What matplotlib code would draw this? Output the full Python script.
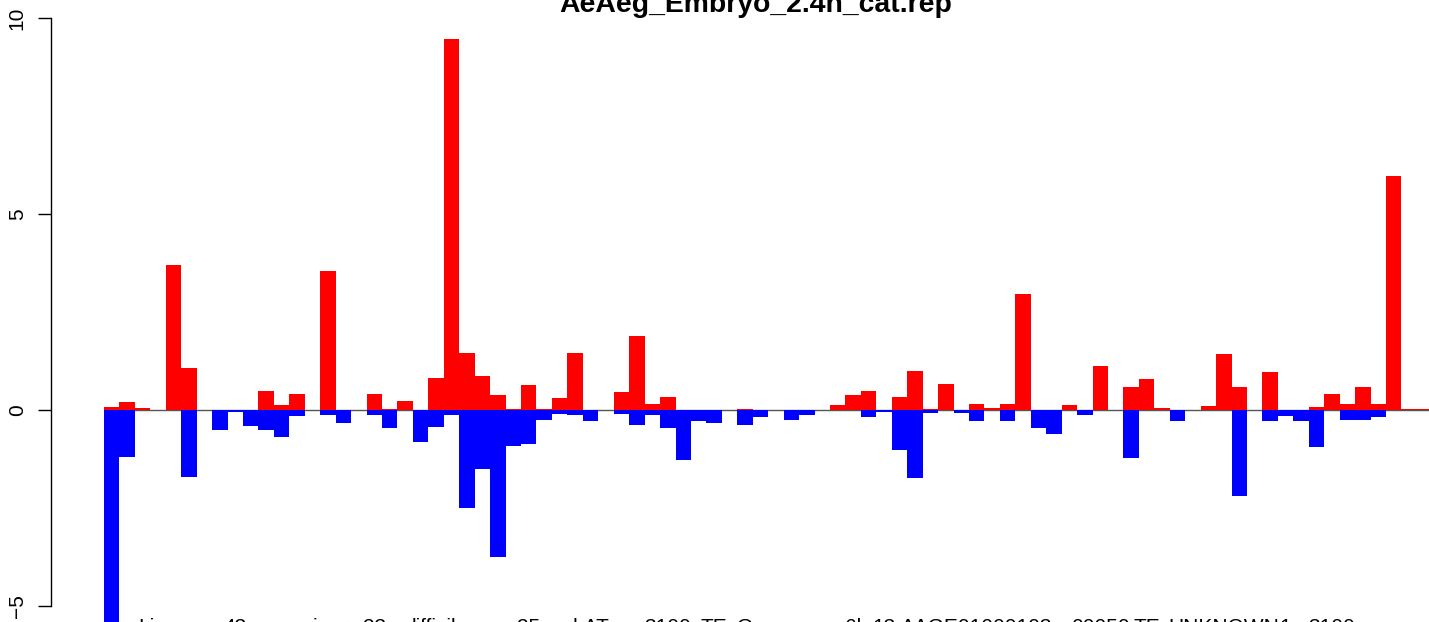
import matplotlib
matplotlib.use("Agg")
from matplotlib import pyplot as plt
import numpy as np

plt.rcParams['font.family'] = ['Liberation Sans', 'DejaVu Sans']

# valores (vermelho = positivo, azul = negativo)
valores_pos = [0.08, 0.21, 0.06, 0, 3.71, 1.08, 0, 0, 0, 0,
               0.49, 0.14, 0.42, 0, 3.55, 0, 0, 0.42, 0.03, 0.24,
               0, 0.81, 9.46, 1.45, 0.87, 0.38, 0.03, 0.63, 0.03, 0.30,
               1.45, 0, 0, 0.45, 1.89, 0.15, 0.33, 0, 0, 0,
               0, 0.02, 0, 0, 0, 0, 0, 0.13, 0.38, 0.48,
               0, 0.33, 0.99, 0.03, 0.66, 0, 0.15, 0.05, 0.15, 2.96,
               0, 0, 0.13, 0, 1.12, 0, 0.59, 0.79, 0.05, 0,
               0, 0.10, 1.43, 0.59, 0, 0.97, 0, 0, 0.08, 0.41,
               0.15, 0.59, 0.15, 5.97, 0.03, 0.03]

valores_neg = [-6.0, -1.21, 0, 0, 0, -1.72, 0, -0.52, -0.04, -0.42,
               -0.52, -0.68, -0.16, 0, -0.14, -0.34, 0, -0.14, -0.47, 0,
               -0.81, -0.43, -0.13, -2.49, -1.51, -3.75, -0.92, -0.87, -0.25, -0.09,
               -0.13, -0.28, 0, -0.10, -0.39, -0.13, -0.46, -1.28, -0.28, -0.33,
               0, -0.39, -0.17, 0, -0.26, -0.13, 0, 0, 0, -0.18,
               -0.05, -1.02, -1.73, -0.08, 0, -0.08, -0.28, 0, -0.28, 0,
               -0.46, -0.61, 0, -0.13, 0, 0, -1.22, 0, 0, -0.28,
               0, 0, 0, -2.19, 0, -0.28, -0.15, -0.28, -0.94, 0,
               -0.26, -0.26, -0.18, 0, 0, 0]

# nomes das categorias (so alguns aparecem, como no barplot do R)
nomes = ["rep_%d" % i for i in range(len(valores_pos))]
rotulos_visiveis = {3: "Line", 8: "43", 13: "mariner", 17: "23",
                    21: "difficile", 27: "25", 31: "hAT",
                    36: "3100", 39: "TE", 41: "G", 45: "p",
                    48: "6l", 50: "13", 56: "AAGE01000103",
                    64: "00050", 67: "TE", 72: "UNKNOWN", 76: "1",
                    79: "3100"}
for k, v in rotulos_visiveis.items():
    nomes[k] = v

W, H = 1429, 622
fig = plt.figure(figsize=(W / 100, H / 100), dpi=100)
esq = 51 / W
ax = fig.add_axes([esq, 0, 1 - esq, 1])

n = len(valores_pos)
pos = np.arange(n)
ax.bar(pos, valores_pos, width=1.0, align='edge', color='#ff0000', linewidth=0, zorder=2)
ax.bar(pos, valores_neg, width=1.0, align='edge', color='#0000ff', linewidth=0, zorder=2)
ax.hlines(0, 0, n, colors='#555555', linewidth=1.0, zorder=1)

# escala: barra 0 comeca em x=104 px, 15.446 px por barra; zero em y=410, 39.2 px por unidade
larg = 15.446
ax.set_xlim((51 - 104) / larg, (W - 104) / larg)
ax.set_ylim(-(H - 410) / 39.2, 410 / 39.2)

for s in ['top', 'right', 'bottom']:
    ax.spines[s].set_visible(False)
ax.spines['left'].set_bounds(-5, 10)
ax.spines['left'].set_linewidth(1.0)
ax.set_yticks([-5, 0, 5, 10])
ax.set_yticklabels(["\u22125", "0", "5", "10"], rotation=90, va='center')
ax.tick_params(axis='y', length=9.5, width=1.0, pad=8, labelsize=15)
ax.set_xticks([])

for k in sorted(rotulos_visiveis):
    ax.text(k + 0.5, 4 / H, nomes[k], transform=ax.get_xaxis_transform(),
            ha='center', va='top', fontsize=15, clip_on=False)

fig.text(756 / W, 1 - 12 / H, "AeAeg_Embryo_2.4h_cat.rep", ha='center',
         va='baseline', fontsize=20.4, fontweight='bold')

fig.savefig("out.png", dpi=100)
